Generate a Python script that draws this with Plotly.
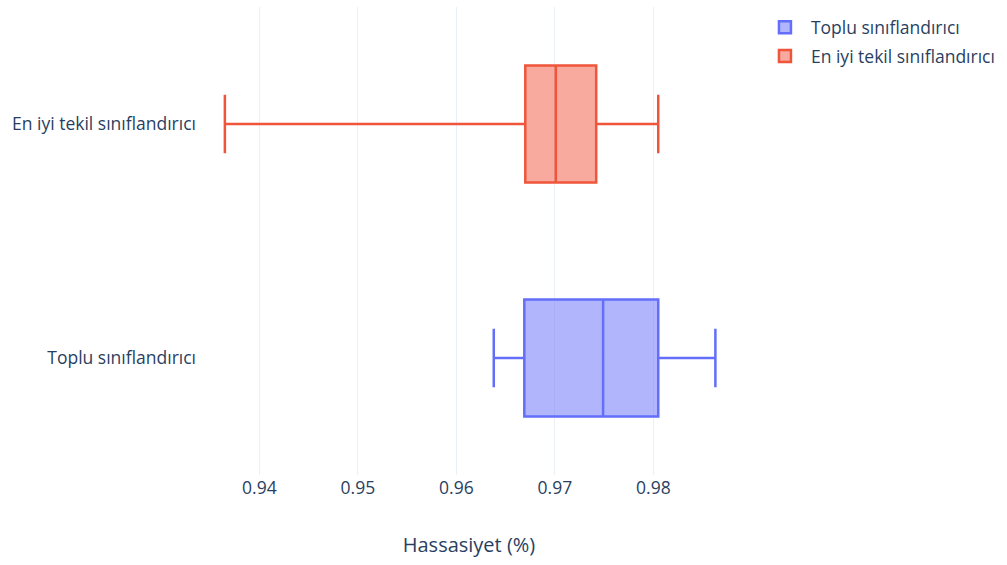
import plotly.graph_objects as go

categories = ["Toplu sınıflandırıcı", "En iyi tekil sınıflandırıcı"]

# Five-number summaries of precision for each classifier
toplu_stats = {"lower": 0.9638, "q1": 0.9669, "median": 0.9749, "q3": 0.9805, "upper": 0.9863}
tekil_stats = {"lower": 0.9365, "q1": 0.9670, "median": 0.9701, "q3": 0.9742, "upper": 0.9805}

colors = ["#636efa", "#EF553B"]

fig = go.Figure()
for name, stats, color in zip(categories, [toplu_stats, tekil_stats], colors):
    fig.add_trace(go.Box(
        name=name,
        y=[name],
        orientation="h",
        lowerfence=[stats["lower"]],
        q1=[stats["q1"]],
        median=[stats["median"]],
        q3=[stats["q3"]],
        upperfence=[stats["upper"]],
        marker_color=color,
        line=dict(color=color, width=2.5),
        width=0.5,
        legendgroup=name,
    ))

fig.update_layout(
    template="plotly_white",
    width=1007,
    height=565,
    font=dict(family="Open Sans", size=17.5, color="#2a3f5f"),
    margin=dict(l=197, r=266, t=7, b=90),
    xaxis=dict(title=dict(text="Hassasiyet (%)", font=dict(size=20), standoff=40),
               range=[0.93367, 0.98890], dtick=0.01, tickformat=".2f",
               zeroline=False, gridwidth=1.2),
    yaxis=dict(categoryorder="array", categoryarray=categories, range=[-0.5, 1.5]),
    legend=dict(x=1.033, y=0.995, font=dict(size=17.5), itemwidth=42,
                traceorder="grouped", tracegroupgap=3),
)

fig.write_html("out.html")
